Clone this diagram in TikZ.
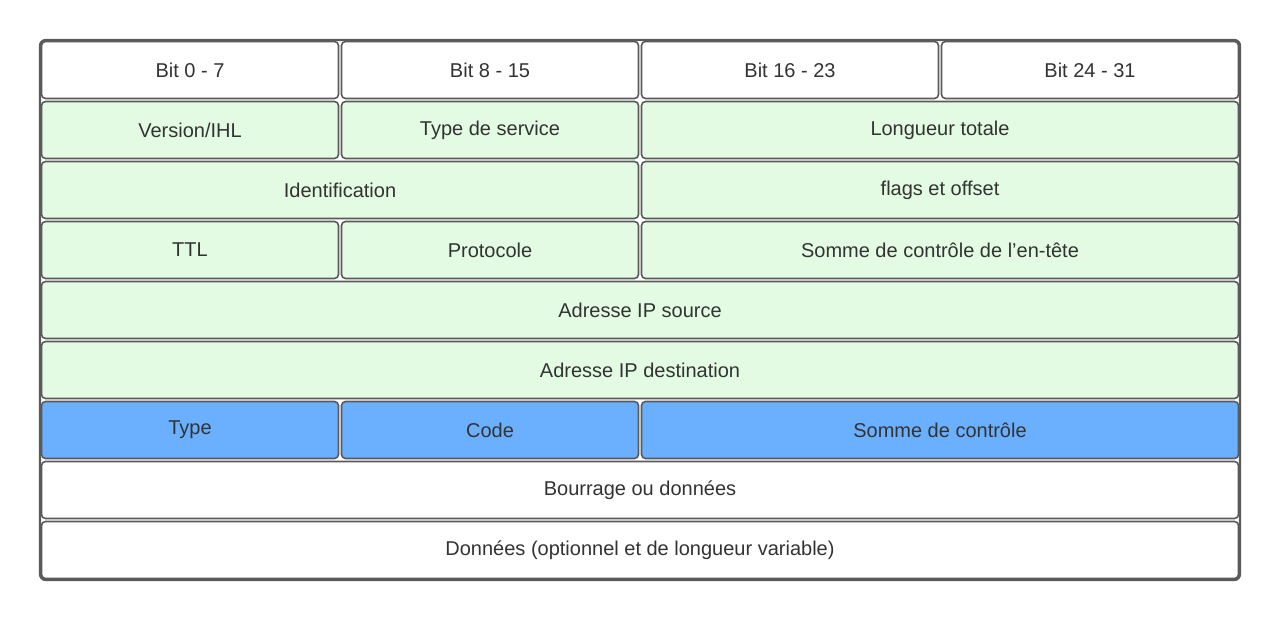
\documentclass[tikz,border=0pt]{standalone}
\usepackage{fontspec}
\setmainfont{Liberation Sans}
\usepackage{tikz}
\usetikzlibrary{positioning}
\definecolor{ipgreen}{HTML}{E3FAE3}
\definecolor{icmpblue}{HTML}{6AB0FF}
\definecolor{rim}{HTML}{5A5A5A}
\definecolor{txt}{HTML}{333333}

\begin{document}
\begin{tikzpicture}[
x=0.5pt,y=-0.5pt,
font=\fontsize{10}{12}\selectfont,
cell/.style={draw=rim,line width=0.8pt,rounded corners=2pt,inner sep=0pt,
  minimum height=28.5pt,text=txt},
one/.style={cell,minimum width=148.5pt},
two/.style={cell,minimum width=298.5pt},
four/.style={cell,minimum width=598.5pt},
hdr/.style={fill=white},
ipf/.style={fill=ipgreen},
icmp/.style={fill=icmpblue}]
    \useasboundingbox (0,0) rectangle (1280,620);
    % outer frame
    \draw[rim,line width=1.2pt,rounded corners=3pt] (40,40) rectangle (1240,580);

    % header row
    \node[one,hdr] (b0) at (190,70) {Bit 0 - 7};
    \node[one,hdr] (b8) at (490,70) {Bit 8 - 15};
    \node[one,hdr] (b16) at (790,70) {Bit 16 - 23};
    \node[one,hdr] (b24) at (1090,70) {Bit 24 - 31};

    % IP header
    \node[one,ipf] (ver) at (190,130) {Version/IHL};
    \node[one,ipf] (tos) at (490,130) {Type de service};
    \node[two,ipf] (len) at (940,130) {Longueur totale};
    \node[two,ipf] (ident) at (340,190) {Identification};
    \node[two,ipf] (flags) at (940,190) {flags et offset};
    \node[one,ipf] (ttl) at (190,250) {TTL};
    \node[one,ipf] (proto) at (490,250) {Protocole};
    \node[two,ipf] (hsum) at (940,250) {Somme de contrôle de l'en-tête};
    \node[four,ipf] (src) at (640,310) {Adresse IP source};
    \node[four,ipf] (dst) at (640,370) {Adresse IP destination};

    % ICMP
    \node[one,icmp] (type) at (190,430) {Type};
    \node[one,icmp] (code) at (490,430) {Code};
    \node[two,icmp] (csum) at (940,430) {Somme de contrôle};
    \node[four,hdr] (pad) at (640,490) {Bourrage ou données};
    \node[four,hdr] (data) at (640,550) {Données (optionnel et de longueur variable)};
\end{tikzpicture}
\end{document}
